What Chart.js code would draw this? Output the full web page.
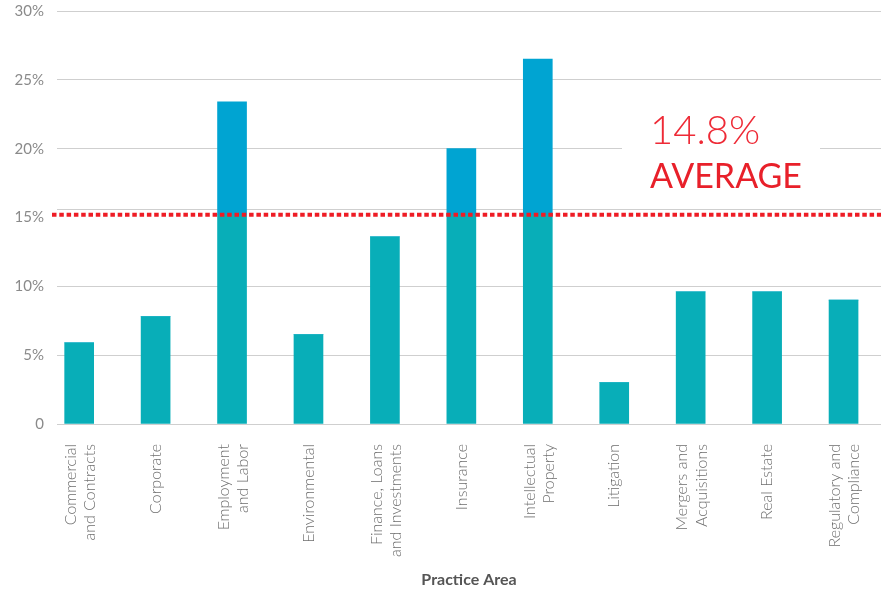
<!DOCTYPE html>
<html><head><meta charset="utf-8">
<script src="https://cdn.jsdelivr.net/npm/chart.js@4/dist/chart.umd.min.js"></script>
<style>html,body{margin:0;padding:0;background:#fff;overflow:hidden}#wrap{width:881px;height:591px;position:relative}</style>
</head><body><div id="wrap"><canvas id="c"></canvas></div>
<script>
const categories = [["Commercial","and Contracts"],["Corporate"],["Employment","and Labor"],["Environmental"],["Finance, Loans","and Investments"],["Insurance"],["Intellectual","Property"],["Litigation"],["Mergers and","Acquisitions"],["Real Estate"],["Regulatory and","Compliance"]];
const belowAverageValues = [5.9, 7.8, 15.2, 6.5, 13.6, 15.2, 15.2, 3.0, 9.6, 9.6, 9.0];
const aboveAverageValues = [0, 0, 8.2, 0, 0, 4.8, 11.3, 0, 0, 0, 0];
const yTickValues = [0, 5, 10, 15, 20, 25, 30];
const yTickLabels = ["0", "5%", "10%", "15%", "20%", "25%", "30%"];
const averageLineValue = 15.2;
const shiftedGridValue = 15.65;
const averageLabel = ["14.8%", "AVERAGE"];
const axisTitle = "Practice Area";

const idx = categories.map((_, i) => i);
const multiLineLabelShift = 0.11; // centres two-line rotated labels on their bar

const avgPlugin = {
  id: 'avg',
  beforeDatasetsDraw(chart) {
    const {ctx, chartArea, scales: {y}} = chart;
    ctx.save();
    ctx.strokeStyle = '#cfcfcf'; ctx.lineWidth = 1;
    const yy = Math.round(y.getPixelForValue(shiftedGridValue)) + 0.5;
    ctx.beginPath(); ctx.moveTo(chartArea.left, yy); ctx.lineTo(chartArea.right, yy); ctx.stroke();
    ctx.fillStyle = '#ffffff';
    ctx.fillRect(622, 100, 198, 100);
    ctx.restore();
  },
  afterDatasetsDraw(chart) {
    const {ctx, chartArea, scales: {y}} = chart;
    ctx.save();
    const yy = y.getPixelForValue(averageLineValue);
    ctx.strokeStyle = '#ee1c25'; ctx.lineWidth = 4;
    ctx.setLineDash([4.5, 2.8]);
    ctx.beginPath(); ctx.moveTo(chartArea.left - 5, yy); ctx.lineTo(chartArea.right, yy); ctx.stroke();
    ctx.setLineDash([]);
    ctx.textAlign = 'left'; ctx.textBaseline = 'alphabetic';
    ctx.fillStyle = '#ee2a36';
    ctx.font = '300 40px Lato';
    ctx.fillText(averageLabel[0], 650, 144);
    ctx.fillStyle = '#e8202a';
    ctx.font = '400 34px Lato';
    ctx.fillText(averageLabel[1], 650, 188);
    ctx.restore();
  }
};

new Chart(document.getElementById('c'), {
  type: 'bar',
  data: {
    datasets: [
      { data: idx.map(i => ({x: i, y: belowAverageValues[i]})), backgroundColor: '#08aeb8', barThickness: 29 },
      { data: idx.map(i => ({x: i, y: aboveAverageValues[i]})), backgroundColor: '#00a4d2', barThickness: 29 }
    ]
  },
  options: {
    responsive: true, maintainAspectRatio: false, animation: false,
    layout: { padding: { top: 11, right: 0, bottom: 0, left: 0 } },
    plugins: { legend: { display: false }, tooltip: { enabled: false } },
    scales: {
      x: {
        type: 'linear', stacked: true, offset: false, min: -0.29, max: 10.49,
        afterBuildTicks: s => { s.ticks = idx.map(i => ({value: categories[i].length > 1 ? i - multiLineLabelShift : i})); },
        afterFit: s => { s.height = 167; s.paddingLeft = 0; s.paddingRight = 0; },
        grid: { display: false, drawTicks: false, offset: false }, border: { display: false },
        ticks: { autoSkip: false, minRotation: 90, maxRotation: 90, padding: 20,
          color: '#6e6e6e', font: { family: 'Lato', size: 16, weight: '300' },
          callback: v => categories[Math.round(v)] },
        title: { display: true, text: axisTitle, color: '#555', padding: { top: 0, bottom: 2 },
          font: { family: 'Lato', size: 16, weight: 'bold' } }
      },
      y: {
        stacked: true, min: 0, max: 30,
        afterBuildTicks: s => { s.ticks = yTickValues.map(v => ({value: v})); },
        afterFit: s => { s.width = 57; s.paddingTop = 0; s.paddingBottom = 0; },
        grid: { drawTicks: false, color: c => (c.tick && c.tick.value === 15) ? 'rgba(0,0,0,0)' : '#cfcfcf' },
        border: { display: false },
        ticks: { padding: 13, color: '#8a8a8a', font: { family: 'Lato', size: 15 },
          callback: (v) => yTickLabels[yTickValues.indexOf(v)] }
      }
    }
  },
  plugins: [avgPlugin]
});
</script></body></html>
